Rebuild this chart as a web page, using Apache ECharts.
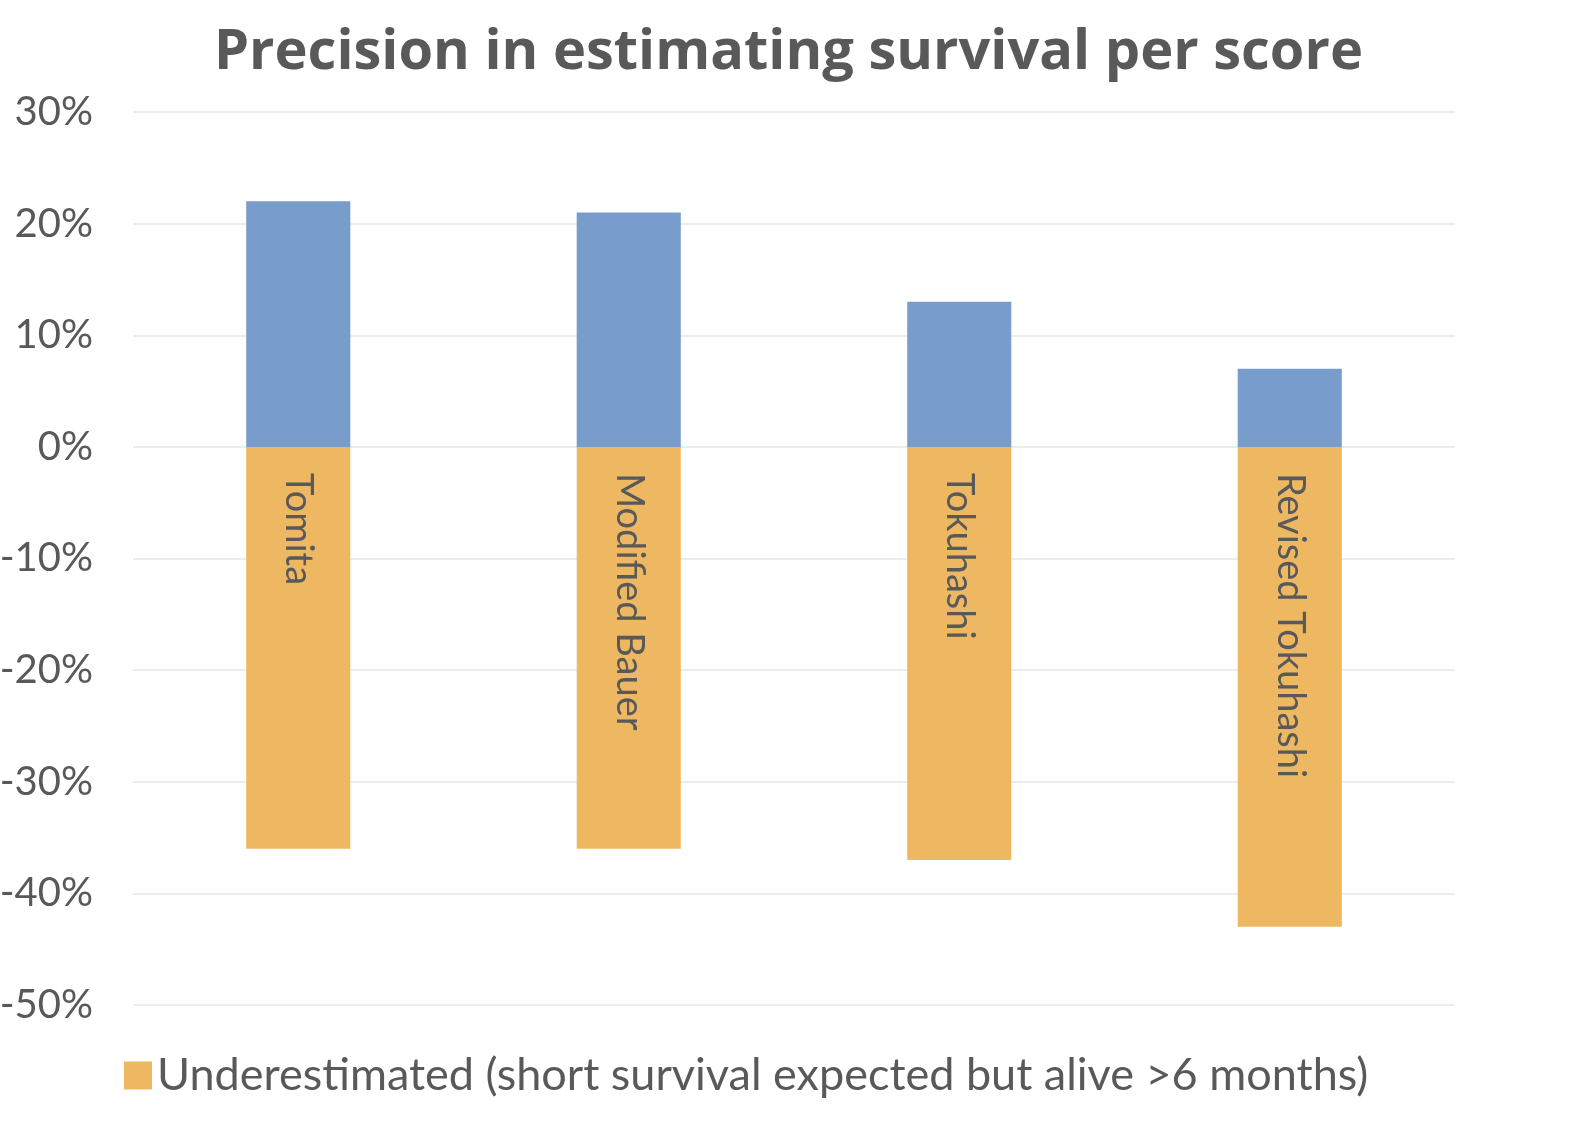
<!DOCTYPE html>
<html>
<head>
<meta charset="utf-8">
<script src="https://cdn.jsdelivr.net/npm/echarts@6/dist/echarts.min.js"></script>
<style>
html,body{margin:0;padding:0;background:#fff;}
#chart{width:1577px;height:1123px;}
</style>
</head>
<body>
<div id="chart"></div>
<script>
const categories = ['Tomita', 'Modified Bauer', 'Tokuhashi', 'Revised Tokuhashi'];
const overestimated = [22, 21, 13, 7];
const underestimated = [-36, -36, -37, -43];
const overName = 'Overestimated (long survival expected but died <6 months)';
const underName = 'Underestimated (short survival expected but alive >6 months)';

const chart = echarts.init(document.getElementById('chart'));
const textColor = '#595959';
chart.setOption({
  backgroundColor: '#ffffff',
  animation: false,
  title: {
    text: 'Precision in estimating survival per score',
    left: 'center',
    top: 20,
    textStyle: { fontFamily: 'Open Sans', fontWeight: 'bold', fontSize: 56, color: textColor }
  },
  legend: {
    data: [underName],
    left: 119,
    top: 1048,
    itemWidth: 28,
    itemHeight: 28,
    icon: 'rect',
    itemGap: 10,
    textStyle: { fontFamily: 'Lato', fontSize: 45, color: textColor }
  },
  grid: { left: 133, right: 122, top: 112, bottom: 118, containLabel: false, outerBoundsMode: 'none' },
  xAxis: {
    type: 'category',
    data: categories,
    axisLine: { show: false },
    axisTick: { show: false },
    axisLabel: { show: false }
  },
  yAxis: {
    type: 'value',
    min: -50,
    max: 30,
    interval: 10,
    axisLine: { show: false },
    axisTick: { show: false },
    axisLabel: {
      formatter: '{value}%',
      margin: 40,
      fontFamily: 'Lato',
      fontSize: 40,
      color: textColor
    },
    splitLine: { lineStyle: { color: '#ececec', width: 2 } }
  },
  series: [
    {
      name: underName,
      type: 'bar',
      stack: 'total',
      barWidth: '31.5%',
      data: underestimated,
      itemStyle: { color: '#eeb862' },
      label: {
        show: true,
        position: 'insideTop',
        distance: 26,
        rotate: -90,
        align: 'left',
        verticalAlign: 'middle',
        formatter: '{b}',
        fontFamily: 'Lato',
        fontSize: 38,
        color: textColor
      }
    },
    {
      name: overName,
      type: 'bar',
      stack: 'total',
      barWidth: '31.5%',
      data: overestimated,
      itemStyle: { color: '#789dcc' }
    }
  ]
});
</script>
</body>
</html>
